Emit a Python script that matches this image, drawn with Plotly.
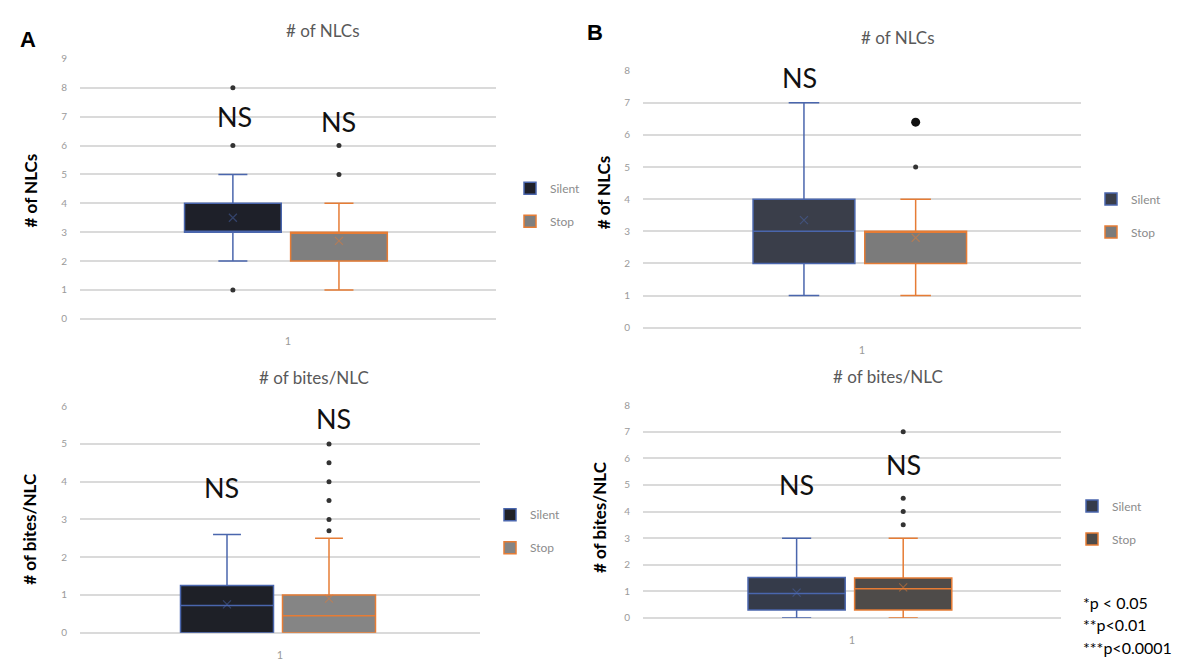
import plotly.graph_objects as go

W, H = 1199, 672

# ---------------- data ----------------
series_names = ["Silent", "Stop"]
category_labels = ["1"]
stat_order = ["q1", "median", "q3", "lowerfence", "upperfence", "mean"]

# Panel A, # of NLCs
a_nlc_silent_stats = [3, 3, 4, 2, 5, 3.5]
a_nlc_stop_stats = [2, 3, 3, 1, 4, 2.7]
a_nlc_silent_outliers = [1, 6, 8]
a_nlc_stop_outliers = [5, 6]

# Panel A, # of bites/NLC
a_bites_silent_stats = [0, 0.72, 1.25, 0, 2.6, 0.75]
a_bites_stop_stats = [0, 0.45, 1.0, 0, 2.5, 0.9]
a_bites_silent_outliers = []
a_bites_stop_outliers = [2.7, 3.0, 3.5, 4.0, 4.5, 5.0]

# Panel B, # of NLCs
b_nlc_silent_stats = [2, 3, 4, 1, 7, 3.35]
b_nlc_stop_stats = [2, 3, 3, 1, 4, 2.8]
b_nlc_silent_outliers = []
b_nlc_stop_outliers = [5]
b_nlc_stop_big_outliers = [6.4]

# Panel B, # of bites/NLC
b_bites_silent_stats = [0.3, 0.92, 1.52, 0, 3.0, 0.95]
b_bites_stop_stats = [0.3, 1.1, 1.5, 0, 3.0, 1.15]
b_bites_silent_outliers = []
b_bites_stop_outliers = [3.5, 4.0, 4.5, 7.0]

pvalue_notes = ["*p < 0.05", "**p<0.01", "***p<0.0001"]

# ---------------- styling ----------------
SILENT_LINE = "#4a66ad"
STOP_LINE = "#e67c35"
GRID = "#dadada"
TICKC = "#9a9a9a"
FONT = "Lato"

POS = {"Silent": -0.265, "Stop": 0.245}
BOXW = 0.465


def pxx(x):
    return x / W


def pyy(y):
    return 1 - y / H


panels = [
    dict(ax="", leg="legend", xd=(80, 496), yd=(53, 318), yr=9,
         stats={"Silent": a_nlc_silent_stats, "Stop": a_nlc_stop_stats},
         outl={"Silent": a_nlc_silent_outliers, "Stop": a_nlc_stop_outliers},
         fill={"Silent": "#1e2029", "Stop": "#7f7f7f"},
         legpos=(530, 182), tick_standoff=14),
    dict(ax="2", leg="legend2", xd=(80, 480), yd=(407, 638), yr=6,
         stats={"Silent": a_bites_silent_stats, "Stop": a_bites_stop_stats},
         outl={"Silent": a_bites_silent_outliers, "Stop": a_bites_stop_outliers},
         fill={"Silent": "#1e2027", "Stop": "#858585"},
         legpos=(510, 515), tick_standoff=14),
    dict(ax="3", leg="legend3", xd=(643, 1081), yd=(65, 327), yr=8,
         stats={"Silent": b_nlc_silent_stats, "Stop": b_nlc_stop_stats},
         outl={"Silent": b_nlc_silent_outliers, "Stop": b_nlc_stop_outliers},
         fill={"Silent": "#3a3e4a", "Stop": "#7b7b7b"},
         legpos=(1111, 193), tick_standoff=14),
    dict(ax="4", leg="legend4", xd=(643, 1061), yd=(406, 623), yr=8,
         stats={"Silent": b_bites_silent_stats, "Stop": b_bites_stop_stats},
         outl={"Silent": b_bites_silent_outliers, "Stop": b_bites_stop_outliers},
         fill={"Silent": "#353b4a", "Stop": "#4e4b49"},
         legpos=(1092, 506), tick_standoff=14),
]

fig = go.Figure()
layout = dict(
    width=W, height=H, margin=dict(l=0, r=0, t=0, b=0),
    paper_bgcolor="white", plot_bgcolor="white",
    font=dict(family=FONT, color="#595959"),
    annotations=[],
)

for p in panels:
    ax = p["ax"]
    xa = "x" + ax
    ya = "y" + ax
    for name in series_names:
        st = dict(zip(stat_order, p["stats"][name]))
        line_c = SILENT_LINE if name == "Silent" else STOP_LINE
        fig.add_trace(go.Box(
            name=name, x=[POS[name]],
            q1=[st["q1"]], median=[st["median"]], q3=[st["q3"]],
            lowerfence=[st["lowerfence"]], upperfence=[st["upperfence"]],
            width=BOXW, whiskerwidth=0.3,
            fillcolor=p["fill"][name],
            line=dict(color=line_c, width=1.5),
            boxpoints=False, hoverinfo="skip",
            xaxis=xa, yaxis=ya, legend=p["leg"],
            legendgroup=p["leg"] + name, showlegend=True,
        ))
        # mean marker
        fig.add_trace(go.Scatter(
            x=[POS[name]], y=[st["mean"]], mode="markers",
            marker=dict(symbol="x-thin", size=8,
                        line=dict(color=line_c, width=1.2)),
            opacity=0.5, showlegend=False, hoverinfo="skip",
            xaxis=xa, yaxis=ya,
        ))
        outs = p["outl"][name]
        if outs:
            fig.add_trace(go.Scatter(
                x=[POS[name]] * len(outs), y=outs, mode="markers",
                marker=dict(size=5, color="#333333"),
                showlegend=False, hoverinfo="skip",
                xaxis=xa, yaxis=ya,
            ))
    if ax == "3":
        fig.add_trace(go.Scatter(
            x=[POS["Stop"]] * len(b_nlc_stop_big_outliers), y=b_nlc_stop_big_outliers,
            mode="markers", marker=dict(size=9, color="#111111"),
            showlegend=False, hoverinfo="skip", xaxis=xa, yaxis=ya,
        ))

    layout["xaxis" + ax] = dict(
        domain=[pxx(p["xd"][0]), pxx(p["xd"][1])], anchor=ya,
        range=[-1, 1], tickvals=[0], ticktext=category_labels,
        showgrid=False, zeroline=False, showline=False, ticks="",
        tickfont=dict(size=11, color=TICKC), ticklabelstandoff=p["tick_standoff"],
    )
    layout["yaxis" + ax] = dict(
        domain=[pyy(p["yd"][1]), pyy(p["yd"][0])], anchor=xa,
        range=[0, p["yr"]], dtick=1, tick0=0,
        showgrid=True, gridcolor=GRID, gridwidth=1.5,
        zeroline=True, zerolinecolor=GRID, zerolinewidth=1.5,
        showline=False, ticks="",
        tickfont=dict(size=10, color=TICKC), ticklabelstandoff=12,
    )
    lx, ly = p["legpos"]
    layout[p["leg"]] = dict(
        x=pxx(lx - 20), y=pyy(ly - 12), xanchor="left", yanchor="top",
        font=dict(size=12, color="#8c8c8c", family=FONT),
        bgcolor="rgba(0,0,0,0)", tracegroupgap=14, traceorder="grouped",
        itemclick=False, itemdoubleclick=False,
    )

ann = layout["annotations"]


def add_text(text, x, y, size, color="#000000", bold=False, angle=0, family=FONT, xanchor="center"):
    ann.append(dict(
        text=("<b>%s</b>" % text) if bold else text,
        x=pxx(x), y=pyy(y), xref="paper", yref="paper",
        xanchor=xanchor, yanchor="middle", showarrow=False, textangle=angle,
        font=dict(size=size, color=color, family=family),
    ))


# panel letters
add_text("A", 28, 33, 22, bold=True, family="Liberation Sans")
add_text("B", 595, 26, 22, bold=True, family="Liberation Sans")

# chart titles
add_text("# of NLCs", 323, 24, 17, color="#595959")
add_text("# of NLCs", 898, 31, 17, color="#595959")
add_text("# of bites/NLC", 314, 378, 17, color="#595959")
add_text("# of bites/NLC", 888, 377, 17, color="#595959")

# y-axis titles
add_text("# of NLCs", 30, 187, 17, bold=True, angle=-90)
add_text("# of bites/NLC", 30, 532, 17, bold=True, angle=-90)
add_text("# of NLCs", 603, 189, 17, bold=True, angle=-90)
add_text("# of bites/NLC", 600, 520, 17, bold=True, angle=-90)

# significance labels
ns = [(234, 112), (338, 117), (222, 490), (333, 420), (800, 72), (796, 487), (903, 467)]
for (x, y) in ns:
    add_text("NS", x, y, 27, color="#111111")

# p-value notes
for i, t in enumerate(pvalue_notes):
    add_text(t, 1081, 607 + i * 23, 16, xanchor="left")

fig.update_layout(**layout)
fig.write_html("out.html")
